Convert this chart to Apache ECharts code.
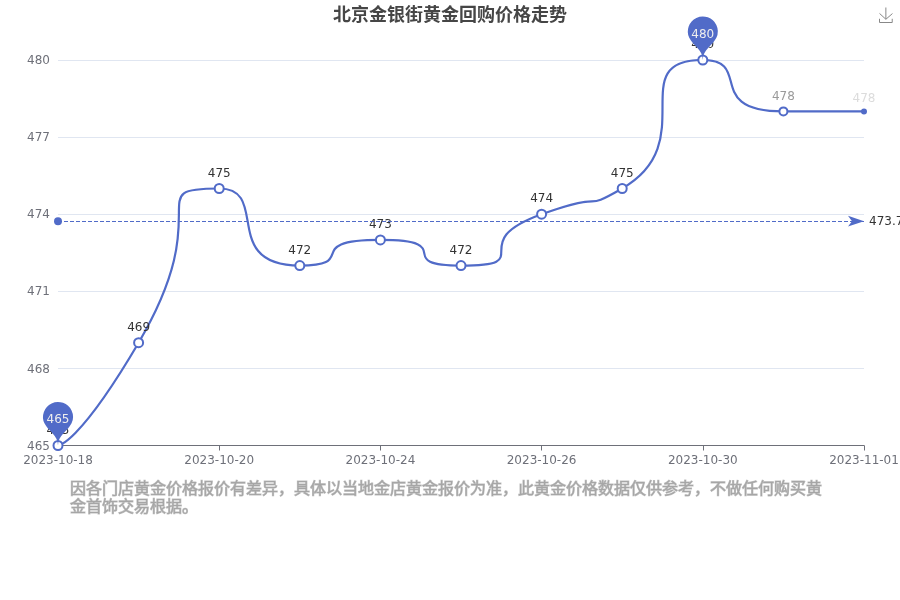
<!DOCTYPE html>
<html><head><meta charset="utf-8">
<style>html,body{margin:0;padding:0;background:#fff}#c{width:900px;height:600px}</style>
<script src="https://cdn.jsdelivr.net/npm/echarts@6/dist/echarts.min.js"></script></head>
<body><div id="c"></div>
<script>
const categories=['2023-10-18','2023-10-19','2023-10-20','2023-10-21','2023-10-24','2023-10-25','2023-10-26','2023-10-27','2023-10-30','2023-10-31','2023-11-01'];
const prices=[465,469,475,472,473,472,474,475,480,478,478];
const yTicks={min:465,max:480,interval:3};
const titleText='北京金银街黄金回购价格走势';
const noteText='因各门店黄金价格报价有差异，具体以当地金店黄金报价为准，此黄金价格数据仅供参考，不做任何购买黄\n金首饰交易根据。';
const lastLabelColors={9:'#9a9a9a',10:'#dcdcdc'};
const lastSizes={9:8,10:4};
const font='"DejaVu Sans","Noto Sans CJK SC",sans-serif';
const chart=echarts.init(document.getElementById('c'),null,{renderer:'canvas'});
chart.setOption({
 animation:false,
 color:['#516bc8'],
 textStyle:{fontFamily:font},
 title:[{text:titleText,left:'center',top:2,textStyle:{fontSize:18,fontWeight:'bold',color:'#464646',fontFamily:font}},
        {text:noteText,left:65,top:476,textStyle:{fontSize:16,fontWeight:'normal',color:'#a6a6a6',lineHeight:18,fontFamily:font,textBorderColor:'rgba(166,166,166,0.7)',textBorderWidth:1}}],
 toolbox:{left:862,top:-10,iconStyle:{borderColor:'#888'},feature:{saveAsImage:{}}},
 grid:{left:58,right:36,top:60,bottom:154.5,outerBoundsMode:'none'},
 xAxis:{type:'category',boundaryGap:false,data:categories,
   axisLabel:{interval:1,color:'#6e7079',fontSize:12,showMaxLabel:true,margin:9},
   axisLine:{lineStyle:{color:'#6e7079'}},axisTick:{alignWithLabel:true,interval:1,lineStyle:{color:'#6e7079'}}},
 yAxis:{type:'value',min:yTicks.min,max:yTicks.max,interval:yTicks.interval,
   axisLabel:{color:'#6e7079',fontSize:12,formatter:v=>'{a|'+v+'}',rich:{a:{color:'#6e7079',fontSize:12,padding:[2,0,0,0]}}},
   axisLine:{show:false},axisTick:{show:false},
   splitLine:{lineStyle:{color:'#e0e6f1'}}},
 series:[{type:'line',smooth:1,
   data:prices.map((v,i)=>({value:v,
      symbolSize:lastSizes[i]||9,
      itemStyle:i===10?{color:'#516bc8'}:undefined,
      label:lastLabelColors[i]?{color:lastLabelColors[i]}:undefined})),
   symbol:'circle',
   itemStyle:{color:'#fff',borderColor:'#516bc8',borderWidth:2},
   lineStyle:{color:'#516bc8',width:2.2},
   label:{show:true,position:'top',color:'#333',fontSize:12,offset:[0,1.5]},
   markPoint:{symbol:'pin',symbolSize:50,itemStyle:{color:'#516bc8',borderWidth:0},
     label:{color:'#eee',fontSize:12,offset:[0,1]},
     data:[{type:'max'},{type:'min'}]},
   markLine:{symbol:['circle','arrow'],symbolSize:[8,16],
     lineStyle:{color:'#516bc8',type:'dashed',width:1},itemStyle:{color:'#516bc8'},
     label:{color:'#333',fontSize:12,offset:[0,1]},
     data:[{type:'average'}]}
 }]
});
</script></body></html>
